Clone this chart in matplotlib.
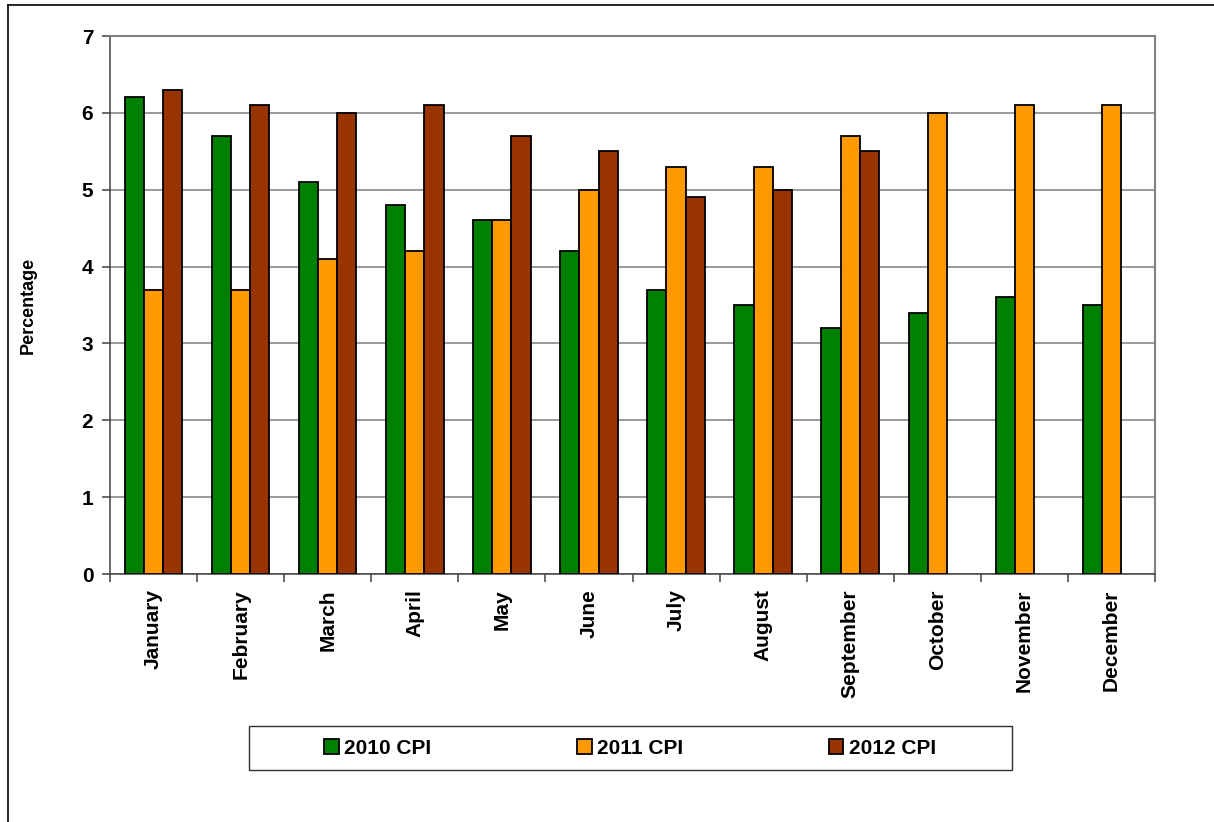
import matplotlib
matplotlib.use("Agg")
import matplotlib.pyplot as plt
import numpy as np
from matplotlib.patches import Rectangle
from matplotlib.lines import Line2D

months = ["January", "February", "March", "April", "May", "June", "July",
          "August", "September", "October", "November", "December"]
cpi_2010 = [6.2, 5.7, 5.1, 4.8, 4.6, 4.2, 3.7, 3.5, 3.2, 3.4, 3.6, 3.5]
cpi_2011 = [3.7, 3.7, 4.1, 4.2, 4.6, 5.0, 5.3, 5.3, 5.7, 6.0, 6.1, 6.1]
cpi_2012 = [6.3, 6.1, 6.0, 6.1, 5.7, 5.5, 4.9, 5.0, 5.5, np.nan, np.nan, np.nan]
series_labels = ["2010 CPI", "2011 CPI", "2012 CPI"]
colors = ["#008000", "#FF9900", "#993300"]

plt.rcParams["font.family"] = ["Liberation Sans", "DejaVu Sans"]
plt.rcParams["font.weight"] = "bold"

W, H = 1214, 822
fig = plt.figure(figsize=(W / 100, H / 100), dpi=100)
ax = fig.add_axes([110 / W, 1 - 574 / H, 1045 / W, 538 / H])

x = np.arange(len(months))
bw = 0.22
handles = []
for i, (vals, col, lab) in enumerate(zip([cpi_2010, cpi_2011, cpi_2012], colors, series_labels)):
    b = ax.bar(x + (i - 1) * bw, vals, bw, color=col, edgecolor="black",
               linewidth=1.3, label=lab, zorder=3)
    handles.append(b)

ax.set_xlim(-0.5, len(months) - 0.5)
ax.set_ylim(0, 7)
ax.set_yticks(range(8))
ax.yaxis.grid(True, color="#808080", linewidth=1.1, zorder=0)

ax.set_xticks(x)
ax.set_xticklabels(months, rotation=90, fontsize=15, fontweight="bold", va="top")
ax.set_xticks(np.arange(-0.5, len(months)), minor=True)
ax.tick_params(axis="x", which="major", length=0, pad=11)
ax.tick_params(axis="x", which="minor", length=6, width=1.1, color="#404040")
ax.tick_params(axis="y", length=6, width=1.1, color="#404040", labelsize=15, pad=6)
for lbl in ax.get_yticklabels():
    lbl.set_fontweight("bold")

for side in ["top", "right"]:
    ax.spines[side].set_color("#808080")
    ax.spines[side].set_linewidth(1.5)
for side in ["left", "bottom"]:
    ax.spines[side].set_color("#404040")
    ax.spines[side].set_linewidth(1.1)

ax.set_ylabel("Percentage", fontsize=13, fontweight="bold")
ax.yaxis.set_label_coords((37 - 110) / 1045, 0.5)

# legend frame and entries
fig.patches.append(Rectangle((249 / W, 1 - 770 / H), 763 / W, 44 / H,
                             transform=fig.transFigure, fill=False,
                             edgecolor="#303030", linewidth=1.0))
fig.legend(handles=handles, loc="center", bbox_to_anchor=(630 / W, 1 - 748 / H),
           ncol=3, frameon=False, handlelength=0.7, handleheight=0.7,
           handletextpad=0.25, columnspacing=7.0, prop={"weight": "bold", "size": 15})

# outer border (top and left edges)
fig.add_artist(Line2D([8 / W, 1], [1 - 5 / H, 1 - 5 / H], color="black",
                      linewidth=1.2, transform=fig.transFigure))
fig.add_artist(Line2D([8 / W, 8 / W], [1 - 5 / H, 0], color="black",
                      linewidth=1.2, transform=fig.transFigure))

fig.savefig("out.png", dpi=100)
